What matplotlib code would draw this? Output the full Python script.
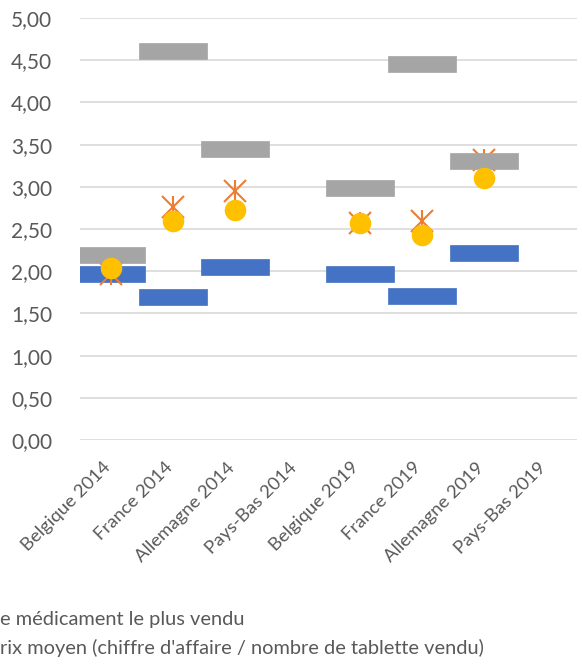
import numpy as np
import matplotlib
matplotlib.use('Agg')
import matplotlib.pyplot as plt
from matplotlib.path import Path
from matplotlib.ticker import FuncFormatter
from matplotlib.transforms import ScaledTranslation

plt.rcParams['font.family'] = ['Lato', 'DejaVu Sans']

categories = ['Belgique 2014', 'France 2014', 'Allemagne 2014', 'Pays-Bas 2014',
              'Belgique 2019', 'France 2019', 'Allemagne 2019', 'Pays-Bas 2019']

# price bands (NaN where no data)
prix_min = [1.97, 1.70, 2.05, np.nan, 1.97, 1.71, 2.22, np.nan]
prix_max = [2.19, 4.61, 3.45, np.nan, 2.98, 4.46, 3.30, np.nan]
prix_top = [1.97, 2.76, 2.95, np.nan, 2.57, 2.59, 3.32, np.nan]
prix_moyen = [2.04, 2.59, 2.72, np.nan, 2.57, 2.43, 3.10, np.nan]

legend_lines = ["e médicament le plus vendu",
                "rix moyen (chiffre d'affaire / nombre de tablette vendu)"]

BLUE = '#4472C4'
GRAY = '#A5A5A5'
ORANGE = '#ED7D31'
YELLOW = '#FFC000'
TXT = '#595959'

# flat rectangle marker, 68 x 15 px
h = 0.5 * 15 / 68
bar_marker = Path([(-0.5, -h), (0.5, -h), (0.5, h), (-0.5, h), (-0.5, -h)],
                  [Path.MOVETO, Path.LINETO, Path.LINETO, Path.LINETO, Path.CLOSEPOLY])

fig = plt.figure(figsize=(5.82, 6.68), dpi=100)
ax = fig.add_axes([80 / 582, 1 - 440 / 668, 497 / 582, 422 / 668])

x = np.arange(len(categories))

ax.plot(x, prix_min, ls='none', marker=bar_marker, ms=49, mfc=BLUE, mec=BLUE, mew=0.5, zorder=3)
ax.plot(x, prix_top, ls='none', marker='x', ms=16.5, mec=ORANGE, mew=1.5, zorder=4)
ax.plot(x, prix_top, ls='none', marker='|', ms=16.5, mec=ORANGE, mew=1.5, zorder=4)
ax.plot(x, prix_max, ls='none', marker=bar_marker, ms=49, mfc=GRAY, mec=GRAY, mew=0.5, zorder=5)
ax.plot(x, prix_moyen, ls='none', marker='o', ms=14.5, mfc=YELLOW, mec=YELLOW, zorder=6)

ax.set_xlim(-0.5, len(categories) - 0.5)
ax.set_ylim(0, 5)
ax.set_yticks(np.arange(0, 5.01, 0.5))
ax.yaxis.set_major_formatter(FuncFormatter(lambda v, p: f'{v:.2f}'.replace('.', ',')))
ax.grid(axis='y', color='#D9D9D9', lw=1.2)
ax.set_axisbelow(True)
for s in ax.spines.values():
    s.set_visible(False)
ax.tick_params(axis='y', length=0, colors=TXT, labelsize=15, pad=20)

ax.set_xticks(x)
ax.set_xticklabels(categories, rotation=45, ha='right', va='center', rotation_mode='anchor')
ax.tick_params(axis='x', length=0, colors=TXT, labelsize=13.3, pad=18)
shift = ScaledTranslation(-3 / 100, 0, fig.dpi_scale_trans)
for lab in ax.get_xticklabels():
    lab.set_transform(lab.get_transform() + shift)

fig.text(0.0, 1 - 620 / 668, legend_lines[0], color=TXT, fontsize=14.4, va='center', ha='left')
fig.text(0.0, 1 - 648 / 668, legend_lines[1], color=TXT, fontsize=14.4, va='center', ha='left')

fig.savefig('out.png', dpi=100)
